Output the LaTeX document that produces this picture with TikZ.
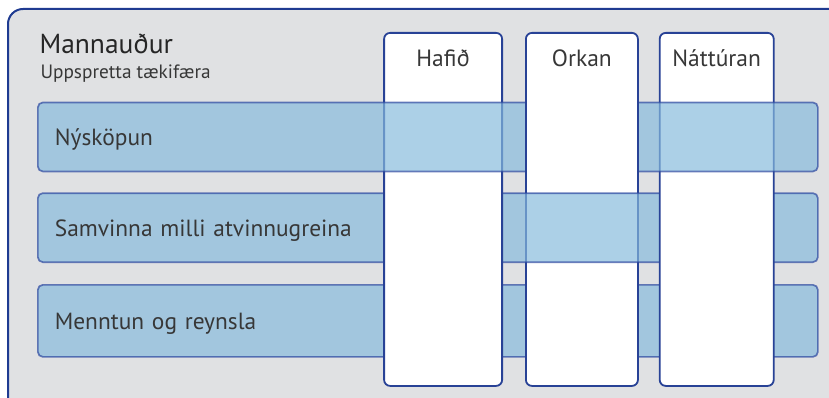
\documentclass[tikz,border=0pt]{standalone}
\usepackage{fontspec}
\setmainfont{PT Sans}
\usepackage{xcolor}
\usepackage{tikz}
\usetikzlibrary{positioning}

\definecolor{frameblue}{RGB}{31,59,145}
\definecolor{colblue}{RGB}{40,66,150}
\definecolor{panelgray}{RGB}{224,225,227}
\definecolor{barblue}{RGB}{133,186,221}
\definecolor{baredge}{RGB}{45,72,160}
\definecolor{textgray}{RGB}{55,55,55}

\begin{document}
\begin{tikzpicture}[
  x=1pt,y=-1pt,
  panel/.style={rectangle,rounded corners=15pt,draw=frameblue,line width=2pt,fill=panelgray,anchor=north west,minimum width=840pt,minimum height=420pt},
  bar/.style={rectangle,rounded corners=5pt,draw=baredge,line width=1.7pt,fill=barblue,fill opacity=0.68,draw opacity=0.7,text opacity=1,minimum width=780pt,inner xsep=17pt,text width=746pt,align=left,text height=17pt,text depth=0pt,font=\fontsize{23.4}{28}\selectfont,text=textgray},
  column/.style={rectangle,rounded corners=6pt,draw=colblue,line width=1.8pt,fill=white,minimum height=353pt},
  colhead/.style={anchor=base,font=\fontsize{23.5}{27}\selectfont,text=textgray}
]
\useasboundingbox (0,0) rectangle (829,398);
\node[panel] (panel) at (7,8) {};
\node[anchor=base west,font=\fontsize{27.5}{32}\selectfont,text=black!85] (title) at (36,54) {Mannauður};
\node[anchor=base west,font=\fontsize{19.3}{22}\selectfont,text=textgray] (subtitle) at (37,79) {Uppspretta tækifæra};

% bottom row runs under every column
\node[bar,minimum height=72pt,anchor=north west] (mennt) at (37,284) {Menntun og reynsla};
\node[column,minimum width=112pt,anchor=north west] (orkan) at (525,32) {};
\node[bar,minimum height=69pt,above=21pt of mennt] (samv) {Samvinna milli atvinnugreina};
\node[column,minimum width=118pt,left=22pt of orkan] (hafid) {};
\node[column,minimum width=114pt,right=20pt of orkan] (natt) {};
\node[bar,minimum height=69pt,above=20pt of samv] (nysk) {Nýsköpun};

% Orkan lies over the top row
\begin{scope}
  \clip ([yshift=2pt]orkan.west |- nysk.north) rectangle ([yshift=-2pt]orkan.east |- nysk.south);
  \node[column,minimum width=112pt] (orkanfront) at (orkan.center) {};
\end{scope}

\node[colhead] (hafidtxt) at ([yshift=-35pt]hafid.north) {Hafið};
\node[colhead] (orkantxt) at ([yshift=-35pt]orkan.north) {Orkan};
\node[colhead] (natttxt) at ([yshift=-35pt]natt.north) {Náttúran};
\end{tikzpicture}
\end{document}
